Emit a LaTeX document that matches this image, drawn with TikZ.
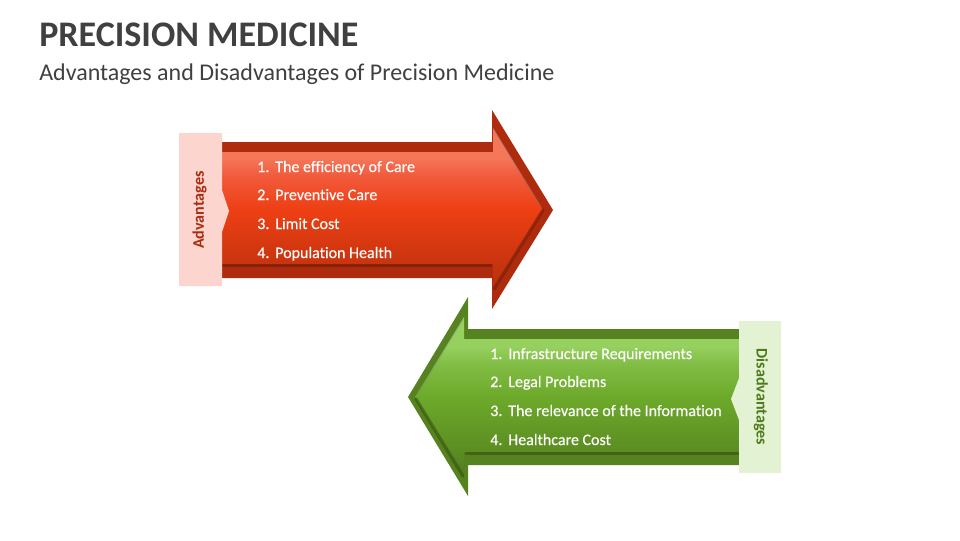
\documentclass[tikz,border=0pt]{standalone}
\usepackage{fontspec}
\setmainfont{Carlito}[Ligatures=CommonOff]
\newfontfamily\itemfont{Carlito}[Ligatures=CommonOff,FakeBold=.35]
\definecolor{redband}{HTML}{AE2B0D}
\definecolor{reddark}{HTML}{6E1C08}
\definecolor{redlabel}{HTML}{FBD5CE}
\definecolor{redtext}{HTML}{A92B10}
\definecolor{redlow}{HTML}{B5300E}
\definecolor{redmid}{HTML}{CB350F}
\definecolor{redhot}{HTML}{EE3F14}
\definecolor{redsoft}{HTML}{F1593A}
\definecolor{redhigh}{HTML}{F4775A}
\definecolor{greenband}{HTML}{56821F}
\definecolor{greendark}{HTML}{35520F}
\definecolor{greenlabel}{HTML}{E2F2D2}
\definecolor{greentext}{HTML}{4F7A1C}
\definecolor{greenlow}{HTML}{4F7C1C}
\definecolor{greenmid}{HTML}{5D8F22}
\definecolor{greenhot}{HTML}{6CA92A}
\definecolor{greensoft}{HTML}{80BC43}
\definecolor{greenhigh}{HTML}{96D05F}
\definecolor{titlegray}{HTML}{404040}
\pgfdeclareverticalshading{redfill}{100bp}{
  color(0bp)=(redlow); color(25bp)=(redlow); color(35bp)=(redmid); color(50bp)=(redhot);
  color(60bp)=(redsoft); color(66bp)=(redhigh); color(75bp)=(redhigh); color(100bp)=(redhigh)}
\pgfdeclareverticalshading{greenfill}{100bp}{
  color(0bp)=(greenlow); color(25bp)=(greenlow); color(35bp)=(greenmid); color(50bp)=(greenhot);
  color(60bp)=(greensoft); color(66bp)=(greenhigh); color(75bp)=(greenhigh); color(100bp)=(greenhigh)}
\tikzset{
  itemtext/.style={text=white, font=\fontsize{12}{14}\selectfont\itemfont, anchor=base west, inner sep=0pt},
  sidetext/.style={font=\fontsize{12.1}{14}\selectfont\bfseries, inner sep=0pt},
  edgeshade/.style={line width=2.4pt, line cap=round, opacity=.6},
  edgelight/.style={line width=1.2pt, opacity=.25},
}
\begin{document}
\begin{tikzpicture}[x=.75pt,y=-.75pt]
\useasboundingbox (0,0) rectangle (960,540);
%\draw[help lines, step=100] (0,0) grid (960,540);

\node [anchor=base west, inner sep=0pt, text=titlegray, font=\fontsize{27}{30}\selectfont\bfseries] (title) at (39,46) {PRECISION MEDICINE};
\node [anchor=base west, inner sep=0pt, text=titlegray, font=\fontsize{18}{22}\selectfont] (subtitle) at (39,80) {Advantages and Disadvantages of Precision Medicine};

% red arrow
\fill [redband] (222,142) -- (492,142) -- (492,110) -- (553,210) -- (492,309) -- (492,278) -- (222,278) -- cycle;
\shade [shading=redfill] (222,152) -- (493,152) -- (493,128) -- (543,210) -- (493,292) -- (493,264) -- (222,264) -- cycle;
\draw [edgeshade, reddark] (222,265.5) -- (491,265.5);
\draw [edgeshade, reddark] (494,289) -- (543,210);
\draw [edgelight, gray] (494,130) -- (541,207);
\fill [redlabel] (179,133) -- (222,133) -- (222,190) -- (229,211) -- (222,232) -- (222,286) -- (179,286) -- cycle;
\node [sidetext, text=redtext, rotate=90] (advantages) at (199.5,210) {Advantages};

\node [itemtext] (a1n) at (257,172) {1.};
\node [itemtext] (a1) at (275,172) {The efficiency of Care};
\node [itemtext] (a2n) at (257,200) {2.};
\node [itemtext] (a2) at (275,200) {Preventive Care};
\node [itemtext] (a3n) at (257,229) {3.};
\node [itemtext] (a3) at (275,229) {Limit Cost};
\node [itemtext] (a4n) at (257,258) {4.};
\node [itemtext] (a4) at (275,258) {Population Health};

% green arrow
\fill [greenband] (739,329) -- (468,329) -- (468,297) -- (408,397) -- (468,496) -- (468,465) -- (739,465) -- cycle;
\shade [shading=greenfill] (739,339) -- (464,339) -- (464,317) -- (415,397) -- (464,479) -- (464,452) -- (739,452) -- cycle;
\draw [edgeshade, greendark] (739,453.5) -- (466,453.5);
\draw [edgeshade, greendark] (463,476) -- (416,399);
\draw [edgelight, gray] (463,319) -- (417,395);
\fill [greenlabel] (739,321) -- (781,321) -- (781,473) -- (739,473) -- (739,420) -- (731,399) -- (739,378) -- cycle;
\node [sidetext, text=greentext, rotate=-90] (disadvantages) at (761,397) {Disadvantages};

\node [itemtext] (d1n) at (490,359) {1.};
\node [itemtext] (d1) at (508,359) {Infrastructure Requirements};
\node [itemtext] (d2n) at (490,387) {2.};
\node [itemtext] (d2) at (508,387) {Legal Problems};
\node [itemtext] (d3n) at (490,416) {3.};
\node [itemtext] (d3) at (508,416) {The relevance of the Information};
\node [itemtext] (d4n) at (490,445) {4.};
\node [itemtext] (d4) at (508,445) {Healthcare Cost};
\end{tikzpicture}
\end{document}
